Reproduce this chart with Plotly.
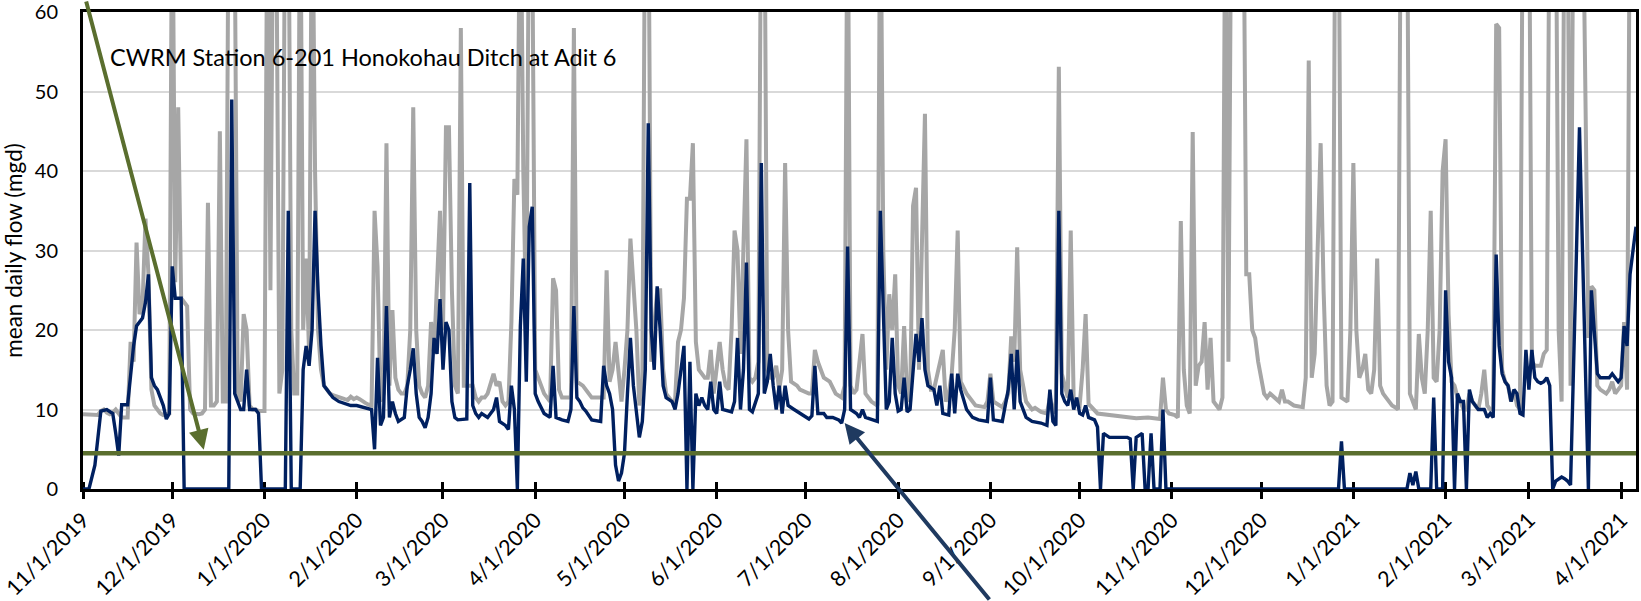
import pandas as pd
import plotly.graph_objects as go

START = pd.Timestamp("2019-11-01")

# day offset from 11/1/2019 and mean daily flow (mgd) -- dark blue series
blue_day = [0, 2, 4, 6, 8, 10, 11, 12, 13, 15, 16, 17, 18, 19, 20, 21, 22, 23, 24, 25, 26, 27, 28, 29,
            30, 31, 33, 34, 49, 50, 51, 52, 53, 54, 55, 56, 58, 59, 60, 68, 69, 70, 73, 74, 75, 76, 77,
            78, 79, 80, 81, 82, 83, 84, 86, 88, 90, 92, 94, 96, 97, 98, 99, 100, 101, 102, 103, 104,
            105, 106, 108, 109, 110, 111, 112, 113, 114, 115, 116, 117, 118, 119, 120, 121, 122, 123,
            124, 125, 126, 129, 130, 131, 132, 133, 134, 136, 138, 139, 140, 142, 143, 144, 145, 146,
            147, 148, 149, 150, 151, 152, 153, 155, 157, 158, 159, 161, 163, 164, 165, 166, 167, 168,
            169, 171, 174, 175, 176, 177, 178, 179, 180, 181, 182, 183, 184, 185, 186, 187, 188, 189,
            190, 191, 192, 193, 194, 195, 196, 198, 199, 200, 201, 202, 203, 204, 205, 206, 207, 208,
            209, 210, 211, 212, 213, 214, 215, 217, 218, 219, 220, 221, 222, 223, 224, 225, 227, 228,
            229, 230, 231, 232, 233, 234, 235, 236, 237, 239, 241, 242, 244, 245, 246, 247, 249, 250,
            252, 254, 255, 256, 257, 258, 260, 261, 262, 263, 265, 267, 268, 270, 271, 272, 273, 274,
            275, 276, 277, 278, 280, 281, 282, 283, 284, 286, 287, 288, 289, 291, 292, 293, 294, 295,
            297, 299, 301, 304, 305, 306, 309, 311, 312, 313, 314, 315, 317, 319, 322, 324, 325, 326,
            327, 328, 329, 330, 331, 332, 333, 334, 335, 336, 337, 338, 340, 341, 342, 343, 345, 351,
            352, 353, 354, 355, 356, 357, 358, 359, 360, 362, 363, 364, 422, 423, 424, 445, 446, 447,
            448, 449, 453, 454, 455, 457, 458, 459, 460, 461, 462, 463, 464, 465, 466, 467, 468, 469,
            471, 472, 473, 474, 475, 476, 477, 478, 479, 480, 481, 482, 483, 484, 485, 486, 487, 488,
            489, 490, 491, 492, 493, 494, 495, 496, 497, 498, 499, 500, 501, 502, 503, 504, 505, 506,
            507, 508, 509, 510, 513, 514, 515, 516, 517, 518, 519, 520, 521, 522]
blue_mgd = [0, 0, 3, 9.8, 10, 9.5, 7, 4.2, 10.6, 10.6, 14.3, 18, 20.5, 21, 21.5, 23.5, 27, 14, 13, 12.5,
            11.5, 10.5, 8.8, 9.5, 28, 24, 24, 0, 0, 49, 12, 11, 10, 10, 15, 10, 10, 9.5, 0, 0, 35, 0,
            0, 15, 18, 15.5, 20, 35, 25, 18, 13, 12.5, 12, 11.5, 11, 10.7, 10.5, 10.5, 10.3, 10.1, 10,
            5, 16.5, 8, 9, 23, 9, 11, 9.5, 8.5, 9, 13, 15, 17.7, 12, 9, 8.5, 7.7, 9, 12, 19, 17, 23.9,
            15, 21, 20, 11, 9, 8.7, 8.8, 38.5, 10.5, 9.5, 9, 9.5, 9, 10, 11.5, 8.5, 8, 7.5, 13, 10, 0,
            20.5, 29, 13.5, 33, 35.5, 12, 11, 9.5, 9, 15.5, 9, 8.7, 8.5, 10, 23, 11.5, 11, 10.2, 9.8,
            8.7, 8.5, 15.5, 13, 12, 10, 3, 1, 2, 4.5, 12, 19, 13, 10, 6.5, 8.5, 15, 46, 20, 15, 25.5,
            20, 13, 11.5, 11, 10, 12, 15, 18, 0, 16, 0, 12, 10.5, 11.5, 10.5, 10, 13.5, 10, 9.5, 13.5,
            10, 9.8, 9.7, 11, 19, 10, 15, 28.5, 10, 9.7, 12, 41, 12, 13.5, 17, 13, 10, 13, 9.5, 13,
            10.5, 10, 9.5, 9.3, 8.8, 9.2, 15.5, 9.5, 9.5, 9, 9, 8.7, 8.3, 10, 30.5, 10, 9.5, 9, 10, 9,
            8.7, 8.5, 35, 10, 11, 19, 12, 9.8, 10, 14, 9.7, 10, 19.5, 16, 21.5, 15, 13, 12.5, 10.5, 13,
            9.5, 9.3, 14.5, 9.5, 14.5, 12.5, 10, 9, 8.7, 8.5, 14, 8.7, 8.5, 12.5, 17, 10, 17.5, 11, 9,
            8.5, 8.3, 8, 12.5, 8.5, 8, 35, 12, 11, 10.5, 12.5, 10, 11.5, 9.5, 9.3, 10.5, 9, 8.7, 7.8,
            0, 7, 6.5, 6.5, 6.3, 0, 6.5, 6.7, 7, 0, 0, 7, 0, 0, 10, 0, 0, 6, 0, 0, 2, 0.5, 2.2, 0, 0,
            11.5, 0, 0, 25, 16, 14, 0, 12, 11, 11, 0, 12.5, 11, 10.5, 10, 10, 9, 9.5, 9, 29.5, 18,
            14.5, 13.5, 13, 11, 12.5, 12, 9.5, 9.3, 17.5, 12.5, 17.5, 14, 13.5, 13.3, 13.5, 14, 13, 0,
            1, 1.3, 1.5, 1.3, 1, 0.5, 14, 30, 45.5, 30, 18.5, 0, 25, 20, 14.5, 14, 14, 14.5, 14, 13.5,
            14, 20.5, 18, 27, 30, 33]

# light gray series (values above 60 run off the top of the chart)
gray_day = [0, 3, 5, 6, 7, 8, 9, 10, 11, 12, 13, 15, 16, 17, 18, 19, 20, 21, 22, 23, 24, 25, 26, 27, 29,
            30, 31, 32, 33, 34, 35, 36, 37, 39, 40, 41, 42, 43, 44, 45, 46, 47, 48, 49, 50, 51, 52, 53,
            54, 55, 56, 57, 58, 59, 61, 62, 63, 64, 65, 66, 67, 68, 69, 70, 71, 72, 73, 74, 75, 76, 77,
            78, 79, 80, 81, 82, 83, 84, 86, 88, 89, 90, 91, 92, 93, 94, 95, 96, 97, 98, 99, 100, 101,
            102, 103, 104, 105, 106, 107, 108, 109, 110, 111, 112, 113, 114, 115, 116, 117, 118, 119,
            120, 121, 122, 123, 124, 125, 126, 127, 128, 129, 131, 132, 133, 134, 135, 136, 137, 138,
            139, 140, 141, 142, 143, 144, 145, 146, 147, 148, 149, 150, 151, 152, 154, 155, 156, 157,
            158, 159, 160, 161, 164, 165, 166, 168, 170, 171, 175, 176, 177, 178, 179, 180, 181, 182,
            183, 184, 185, 186, 187, 188, 189, 190, 191, 192, 193, 194, 195, 196, 198, 199, 200, 201,
            202, 203, 204, 205, 206, 207, 208, 209, 210, 211, 212, 213, 214, 215, 216, 217, 218, 219,
            220, 221, 222, 223, 224, 225, 226, 227, 228, 229, 230, 231, 232, 233, 234, 235, 236, 237,
            238, 240, 241, 244, 245, 246, 247, 248, 249, 251, 253, 255, 256, 257, 258, 259, 260, 261,
            262, 263, 265, 267, 268, 269, 270, 271, 272, 273, 274, 275, 276, 277, 278, 279, 280, 281,
            282, 283, 284, 285, 286, 287, 288, 289, 290, 291, 292, 293, 294, 295, 297, 300, 303, 304,
            305, 306, 309, 310, 311, 312, 313, 314, 315, 317, 319, 320, 322, 324, 325, 326, 327, 328,
            329, 331, 332, 333, 335, 336, 337, 338, 341, 345, 351, 354, 358, 362, 363, 364, 365, 367,
            368, 369, 370, 371, 372, 373, 374, 375, 376, 377, 378, 379, 380, 382, 383, 384, 385, 386,
            390, 391, 392, 393, 394, 395, 397, 398, 399, 402, 403, 404, 405, 407, 410, 411, 412, 413,
            414, 415, 416, 417, 418, 419, 420, 421, 422, 423, 424, 425, 426, 427, 428, 429, 430, 431,
            432, 433, 434, 435, 436, 437, 438, 439, 440, 441, 442, 443, 445, 446, 447, 448, 449, 450,
            451, 452, 453, 454, 455, 456, 457, 458, 459, 460, 461, 462, 463, 464, 465, 466, 467, 468,
            469, 470, 471, 472, 473, 474, 475, 476, 477, 478, 479, 480, 481, 482, 483, 484, 486, 487,
            488, 490, 491, 492, 493, 494, 495, 496, 497, 498, 499, 500, 501, 504, 505, 506, 507, 508,
            509, 510, 512, 513, 514, 515, 516, 517, 518, 519, 520, 522]
gray_mgd = [9.4, 9.3, 9.3, 9.8, 10, 9.6, 9.4, 9.6, 10, 9.5, 9, 9, 18.5, 16, 31, 22, 23, 34, 27, 12.5,
            10.5, 10, 9.5, 9.3, 9.5, 80, 26, 48, 24, 23.5, 23, 10, 9.5, 9.4, 9.5, 10, 36, 10.5, 10.5,
            11, 45, 11, 11, 80, 90, 70, 12, 11, 22, 20, 10.5, 10, 10, 9.8, 9.8, 80, 25, 80, 70, 12, 15,
            80, 80, 20, 12, 12, 80, 20, 29, 17, 80, 40, 20, 15, 13, 12.5, 12, 11.8, 11.5, 11.3, 11.2,
            11.6, 11.3, 11.5, 11.3, 11, 10.8, 10.6, 10.5, 35, 28, 11, 12, 43.5, 13, 22.5, 14, 12.5, 12,
            12, 13, 20, 48, 20, 13, 12, 11.5, 13, 21, 17, 25, 35, 20, 45.5, 45.5, 25, 13, 12, 58, 13,
            13, 13, 11.5, 11, 11.5, 11.5, 12, 13.5, 14.5, 13, 13.5, 11, 10.5, 11, 21, 39, 37, 80, 40,
            20, 80, 70, 15, 13, 12, 11.5, 11, 26.5, 25, 12.5, 11.5, 11.5, 58, 13.5, 13, 12, 11.5, 11.5,
            27.5, 13.5, 15, 18.5, 14, 11, 15, 20, 31.5, 25, 20, 10.5, 13.5, 80, 80, 16, 20, 25, 25, 15,
            12, 11, 11, 18.5, 20, 24, 36.5, 36.5, 43.5, 18.5, 15, 14.5, 14, 14, 17.5, 12, 15, 18.5, 15,
            13, 12.5, 20, 32.5, 30, 17, 30, 44, 14, 13.5, 14, 16, 80, 80, 15, 14, 14, 15.5, 12.5, 15,
            41, 20, 13.5, 13, 12.5, 12, 12, 17.5, 16, 15, 14, 13.5, 12, 11.5, 13, 80, 13, 12, 12.5, 16,
            19.5, 12, 11, 10.5, 80, 30, 15, 24.5, 20, 27, 13, 12, 20.5, 12, 11, 35.6, 37.9, 15, 30,
            47.2, 15, 12.5, 12.5, 14, 16, 17.5, 11, 12, 14.5, 20, 32.5, 13.5, 12, 10.5, 10.3, 11, 14.5,
            11, 10.3, 11, 12, 19.2, 16, 30.4, 15, 11, 10, 10.2, 9.7, 9.5, 11.5, 9.5, 11, 53.1, 14.5,
            11.5, 32.5, 11, 10.5, 15, 22, 10.7, 9.5, 9.3, 9.1, 8.9, 9, 8.8, 14, 10, 9.5, 9.3, 9, 33.7,
            15, 10.5, 9.5, 44.9, 13, 15.5, 16, 21, 12.5, 19, 11, 10, 11.5, 80, 16, 80, 80, 27, 27, 20,
            19, 16, 12, 11.5, 12, 11, 12.5, 11, 11, 10.5, 10.3, 14, 53.9, 14, 17, 30, 43.5, 25, 13,
            10.5, 11, 80, 80, 11.5, 11.2, 11, 20, 41, 20, 14, 15, 17, 12.5, 12, 15, 29, 13, 12, 11.5,
            11, 10.5, 10.3, 10, 80, 80, 12, 11, 10, 19.5, 14, 12, 20, 35, 14, 13.5, 20, 40, 44, 22,
            13.5, 13, 11.5, 11, 10, 10, 12, 11, 10.5, 10, 12, 15, 10.5, 10, 10, 58.5, 58, 15, 13.5, 13,
            11, 12.5, 10.5, 10, 80, 80, 16, 15.5, 15.5, 17, 17.5, 80, 85, 80, 20, 11, 80, 75, 13, 80,
            80, 51, 19, 25.5, 25, 13, 12.5, 12, 12.5, 13.5, 12, 12.5, 13, 21, 12.5, 80, 80]

# x-axis tick dates and labels; y-axis ticks
tick_dates = pd.date_range("2019-11-01", "2021-04-01", freq="MS")
tick_labels = [f"{d.month}/{d.day}/{d.year}" for d in tick_dates]
y_ticks = [0, 10, 20, 30, 40, 50, 60]

THRESHOLD = 4.5  # horizontal reference line (mgd)
STATION_TEXT = "CWRM Station 6-201 Honokohau Ditch at Adit 6"

FONT = "Lato, 'Open Sans', sans-serif"
GRAY = "#A6A6A6"
NAVY = "#002060"
GREEN = "#5A6E2E"
ARROW_BLUE = "#1F3A60"


def to_dates(days):
    return START + pd.to_timedelta(days, unit="D")


fig = go.Figure()
fig.add_trace(go.Scatter(x=to_dates(gray_day), y=gray_mgd, mode="lines",
                         line=dict(color=GRAY, width=4), name="Gray series",
                         showlegend=False, hoverinfo="skip"))
fig.add_trace(go.Scatter(x=to_dates(blue_day), y=blue_mgd, mode="lines",
                         line=dict(color=NAVY, width=3.4), name="Blue series",
                         showlegend=False, hoverinfo="skip"))

fig.add_shape(type="line", xref="paper", x0=0, x1=1, yref="y", y0=THRESHOLD, y1=THRESHOLD,
              line=dict(color=GREEN, width=4.5), layer="above")

# green arrow coming in from above the chart
fig.add_annotation(x=START + pd.Timedelta(days=40.6), y=4.95, xref="x", yref="y",
                   text="", showarrow=True, arrowhead=2, arrowsize=1.0, arrowwidth=4,
                   arrowcolor=GREEN, ax=-118, ay=-470, axref="pixel", ayref="pixel")
# dark blue arrow coming up from below the chart
fig.add_annotation(x=START + pd.Timedelta(days=256.0), y=8.3, xref="x", yref="y",
                   text="", showarrow=True, arrowhead=2, arrowsize=1.0, arrowwidth=4,
                   arrowcolor=ARROW_BLUE, ax=146, ay=195, axref="pixel", ayref="pixel")

fig.add_annotation(x=0.016, y=0.905, xref="paper", yref="paper", xanchor="left", yanchor="middle",
                   text=STATION_TEXT, showarrow=False,
                   font=dict(family=FONT, size=23.5, color="black"))

fig.update_layout(
    width=1641, height=601,
    margin=dict(l=83, r=5, t=12, b=112),
    paper_bgcolor="white", plot_bgcolor="white",
    font=dict(family=FONT, size=22, color="black"),
    showlegend=False,
)
fig.update_xaxes(
    type="date", range=[START, START + pd.Timedelta(days=522)], automargin=False,
    tickvals=list(tick_dates), ticktext=tick_labels, tickangle=-45,
    tickfont=dict(family=FONT, size=21.5, color="black"),
    showgrid=False, showline=True, linecolor="black", linewidth=3, mirror=True,
    ticks="outside", ticklen=7, tickwidth=3, tickcolor="black",
    minor=dict(ticks="inside", tickvals=list(tick_dates), ticklen=7, tickwidth=3,
               tickcolor="black", showgrid=False),
    layer="below traces", zeroline=False, ticklabeloverflow="allow",
)
fig.update_yaxes(
    range=[0, 60.0001], automargin=False, tickvals=y_ticks, ticktext=[str(v) for v in y_ticks],
    tickfont=dict(family=FONT, size=20, color="black"), ticklabeloverflow="allow",
    showgrid=True, gridcolor="#D9D9D9", gridwidth=1.5,
    showline=True, linecolor="black", linewidth=3, mirror=True,
    ticks="", ticklabelstandoff=18,
    title=dict(text="mean daily flow (mgd)", font=dict(family=FONT, size=22.5, color="black"),
               standoff=10),
    layer="below traces", zeroline=False,
)

fig.write_html("out.html")
